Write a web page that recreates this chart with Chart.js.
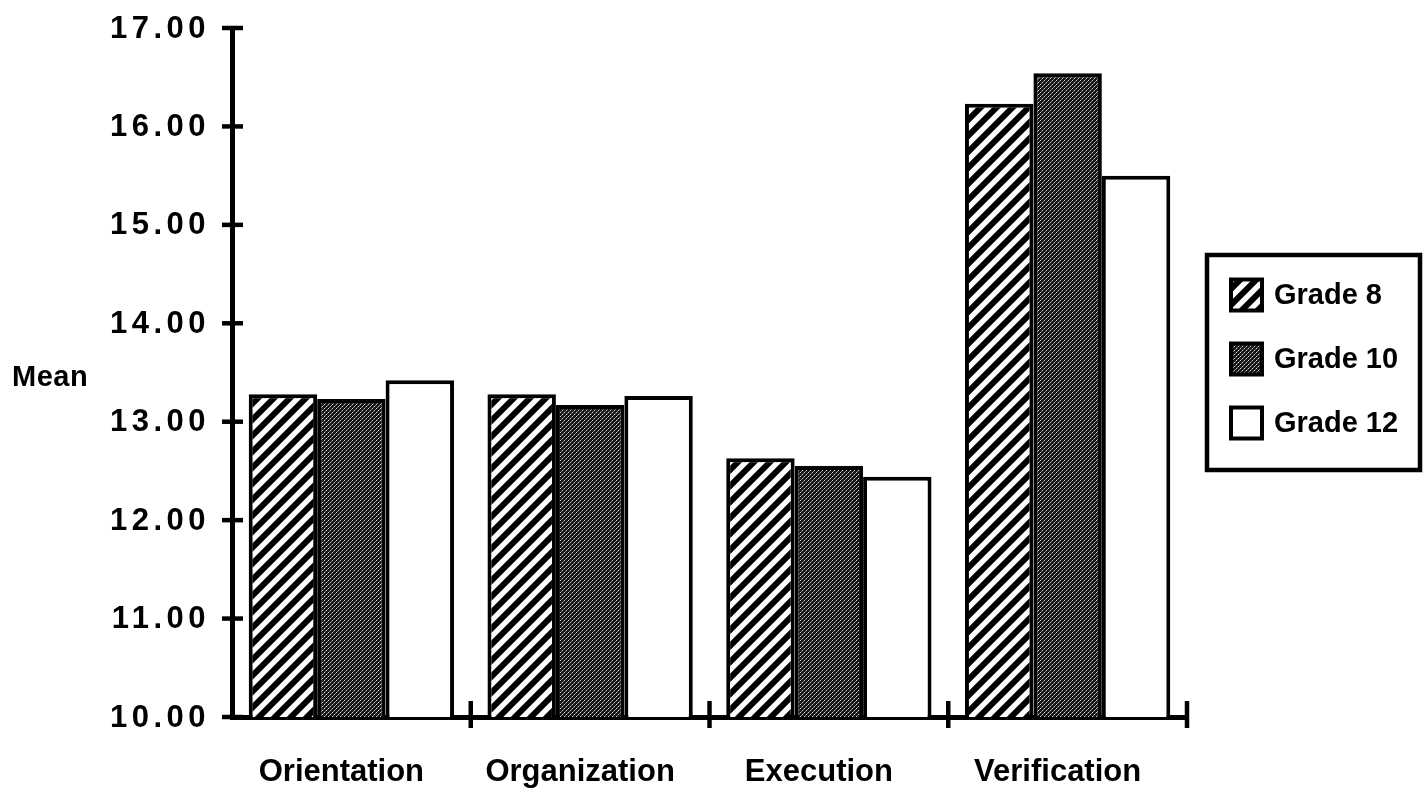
<!DOCTYPE html>
<html>
<head>
<meta charset="utf-8">
<script src="https://cdn.jsdelivr.net/npm/chart.js@4/dist/chart.umd.min.js"></script>
<style>
html,body{margin:0;padding:0;background:#fff;}
#wrap{width:1425px;height:793px;position:relative;}
</style>
</head>
<body>
<div id="wrap"><canvas id="c" width="1425" height="793"></canvas></div>
<script>
// ---- data ----
const categories = ['Orientation', 'Organization', 'Execution', 'Verification'];
const seriesNames = ['Grade 8', 'Grade 10', 'Grade 12'];
const grade8 = [13.28, 13.28, 12.63, 16.23];
const grade10 = [13.23, 13.17, 12.55, 16.54];
const grade12 = [13.42, 13.26, 12.44, 15.50];
const yTicks = [10, 11, 12, 13, 14, 15, 16, 17];
const yAxisTitle = 'Mean';

// ---- fill patterns ----
function hatchPattern() {
  const s = 16, c = document.createElement('canvas');
  c.width = s; c.height = s;
  const g = c.getContext('2d');
  g.fillStyle = '#fff'; g.fillRect(0, 0, s, s);
  g.strokeStyle = '#000'; g.lineWidth = 6; g.lineCap = 'square';
  g.beginPath();
  g.moveTo(-4, s + 4); g.lineTo(s + 4, -4);
  g.moveTo(-4, 4); g.lineTo(4, -4);
  g.moveTo(s - 4, s + 4); g.lineTo(s + 4, s - 4);
  g.stroke();
  return g.createPattern(c, 'repeat');
}
function stipplePattern() {
  const s = 8, c = document.createElement('canvas');
  c.width = s; c.height = s;
  const g = c.getContext('2d');
  g.fillStyle = '#161616'; g.fillRect(0, 0, s, s);
  g.fillStyle = '#d8d8d8';
  for (let y = 0; y < s; y++) for (let x = 0; x < s; x++) {
    if ((x + y) % 4 === 0 && (x % 2 === 0)) g.fillRect(x, y, 1, 1);
  }
  g.fillStyle = '#7a7a7a';
  for (let y = 0; y < s; y++) for (let x = 0; x < s; x++) {
    if ((x - y + 8) % 4 === 2 && (y % 2 === 1)) g.fillRect(x, y, 1, 1);
  }
  return g.createPattern(c, 'repeat');
}
const fills = [hatchPattern(), stipplePattern(), '#ffffff'];
const seriesData = [grade8, grade10, grade12];

const FONT = '"Liberation Sans", Arial, Helvetica, sans-serif';

const decor = {
  id: 'decor',
  afterDraw(chart) {
    const ctx = chart.ctx;
    const xs = chart.scales.x, ys = chart.scales.y;
    const area = chart.chartArea;
    ctx.save();
    ctx.strokeStyle = '#000';
    ctx.fillStyle = '#000';
    ctx.lineWidth = 4.5;
    ctx.lineCap = 'butt';
    // y tick marks crossing the axis
    ys.ticks.forEach(t => {
      const py = ys.getPixelForValue(t.value);
      ctx.beginPath();
      ctx.moveTo(area.left - 10, py);
      ctx.lineTo(area.left + 11, py);
      ctx.stroke();
    });
    // x tick marks at category boundaries
    const step = xs.getPixelForTick(1) - xs.getPixelForTick(0);
    for (let i = 0; i < categories.length; i++) {
      const px = xs.getPixelForTick(i) + step / 2;
      ctx.beginPath();
      ctx.moveTo(px, area.bottom - 16);
      ctx.lineTo(px, area.bottom + 11);
      ctx.stroke();
    }
    // y tick labels
    ctx.font = 'bold 31px ' + FONT;
    ctx.letterSpacing = '4.5px';
    ctx.textAlign = 'right';
    ctx.textBaseline = 'middle';
    ys.ticks.forEach(t => {
      const py = ys.getPixelForValue(t.value);
      ctx.fillText(Number(t.value).toFixed(2), area.left - 22, py + 1);
    });
    // x labels
    ctx.font = 'bold 31px ' + FONT;
    ctx.letterSpacing = '0px';
    ctx.textAlign = 'center';
    ctx.textBaseline = 'middle';
    categories.forEach((lab, i) => {
      const px = xs.getPixelForTick(i);
      ctx.fillText(lab, px - 10, area.bottom + 55);
    });
    // y axis title
    ctx.font = 'bold 29px ' + FONT;
    ctx.letterSpacing = '0.5px';
    ctx.textAlign = 'left';
    ctx.fillText(yAxisTitle, 12, 378);
    // legend box
    const lx = 1207, ly = 255, lw = 213, lh = 215;
    ctx.lineWidth = 4.5;
    ctx.strokeRect(lx, ly, lw, lh);
    chart.data.datasets.forEach((ds, i) => {
      const cy = ly + 40 + i * 64;
      const sx = lx + 24, sz = 31;
      ctx.fillStyle = ds.backgroundColor;
      ctx.fillRect(sx, cy - sz / 2, sz, sz);
      ctx.lineWidth = 4;
      ctx.strokeStyle = '#000';
      ctx.strokeRect(sx, cy - sz / 2, sz, sz);
      ctx.fillStyle = '#000';
      ctx.font = 'bold 29px ' + FONT;
      ctx.letterSpacing = '0px';
      ctx.textAlign = 'left';
      ctx.fillText(ds.label, sx + sz + 12, cy + 1);
    });
    ctx.restore();
  }
};

new Chart(document.getElementById('c'), {
  type: 'bar',
  data: {
    labels: categories,
    datasets: seriesNames.map((name, i) => ({
      label: name,
      data: seriesData[i],
      backgroundColor: fills[i],
      borderColor: '#000',
      borderWidth: 4,
      borderSkipped: 'start'
    }))
  },
  options: {
    responsive: false,
    animation: false,
    devicePixelRatio: 1,
    layout: { padding: { left: 232, right: 238, top: 28, bottom: 76 } },
    datasets: { bar: { categoryPercentage: 0.86, barPercentage: 1.0 } },
    plugins: { legend: { display: false }, tooltip: { enabled: false } },
    scales: {
      x: {
        type: 'category',
        offset: true,
        grid: { display: false, drawTicks: false },
        border: { display: true, color: '#000', width: 5 },
        ticks: { display: false }
      },
      y: {
        min: 10, max: 17,
        afterBuildTicks: (scale) => { scale.ticks = yTicks.map(v => ({ value: v })); },
        grid: { display: false, drawTicks: false },
        border: { display: true, color: '#000', width: 5 },
        ticks: { display: false }
      }
    }
  },
  plugins: [decor]
});
</script>
</body>
</html>
